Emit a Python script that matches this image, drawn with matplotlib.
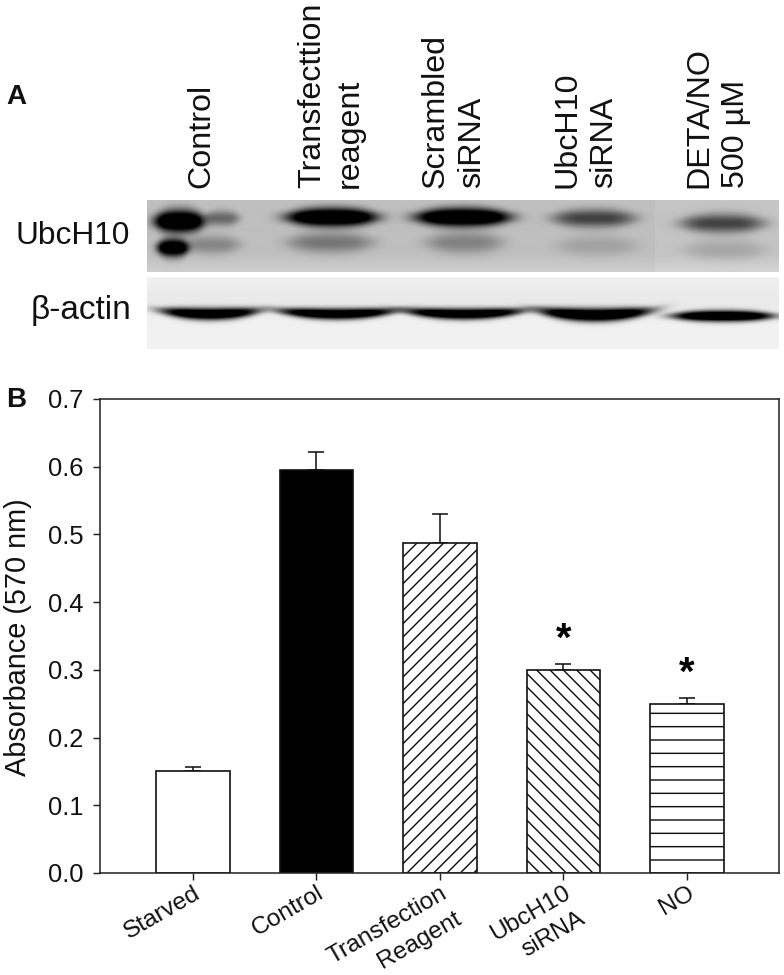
# plot.py
# Panel A: western blot lanes, panel B: bar chart of absorbance
import numpy as np
import matplotlib
matplotlib.use('Agg')
import matplotlib.pyplot as plt

plt.rcParams['font.family'] = ['Liberation Sans', 'DejaVu Sans']
plt.rcParams['hatch.linewidth'] = 1.3

W, H, DPI = 784, 975, 80

# -----------------data
categories = ['Starved', 'Control', 'Transfection\nReagent', 'UbcH10\nsiRNA', 'NO']
absorbance = [0.150, 0.595, 0.487, 0.300, 0.249]
err_top = [0.157, 0.622, 0.530, 0.308, 0.258]
signif = [False, False, False, True, True]
yticks = [0.0, 0.1, 0.2, 0.3, 0.4, 0.5, 0.6, 0.7]

lane_labels = ['Control', 'Transfecttion\nreagent', 'Scrambled\nsiRNA', 'UbcH10\nsiRNA', 'DETA/NO\n500 µM']

# band darkness read from the blot (0 = background, 1 = black)
ubc_upper = [1.0, 0.45, 1.0, 1.0, 0.62, 0.62]
ubc_lower = [0.95, 0.30, 0.38, 0.32, 0.15, 0.15]
actin = [0.95, 0.95, 0.95, 0.98, 0.98]


def fx(px):
    return px / W


def fy(py):
    return 1 - py / H


def add_band(img, xs, ys, x0, x1, yc, h, dark, smile=0.0):
    # soft edged band, darkens img in place, strong bands saturate to black
    xc = (x0 + x1) / 2
    hw = (x1 - x0) / 2
    across = np.exp(-np.abs((xs - xc) / (hw * 1.08)) ** 4)
    ymid = yc + smile * (1 - ((xs - xc) / hw) ** 2)
    thick = h * (0.65 + 0.35 * np.clip(1 - ((xs - xc) / (hw * 1.1)) ** 2, 0, 1))
    down = np.exp(-np.abs((ys - ymid) / thick) ** 2.2)
    gain = 1.0 + 0.5 * dark ** 4
    img *= 1 - np.minimum(1, gain * dark * across * down)


fig = plt.figure(figsize=(W / DPI, H / DPI), dpi=DPI, facecolor='white')

# -----------------panel A
left, right = 147, 779
xs, ys = np.meshgrid(np.arange(left, right) + 0.5, np.arange(200, 272) + 0.5)
top_img = np.full(xs.shape, 0.75)
top_img[xs > 655] = 0.77
top_img += 0.06 * np.clip((ys - 255) / 17.0, 0, 1)
add_band(top_img, xs, ys, 156, 203, 222, 11, ubc_upper[0])
add_band(top_img, xs, ys, 206, 238, 219, 7.5, ubc_upper[1])
add_band(top_img, xs, ys, 290, 374, 218, 9, ubc_upper[2])
add_band(top_img, xs, ys, 419, 507, 218, 9, ubc_upper[3])
add_band(top_img, xs, ys, 556, 632, 219, 9, ubc_upper[4])
add_band(top_img, xs, ys, 684, 761, 224, 9.5, ubc_upper[5])
add_band(top_img, xs, ys, 158, 188, 248, 9, ubc_lower[0])
add_band(top_img, xs, ys, 186, 238, 245, 9, ubc_lower[1])
add_band(top_img, xs, ys, 291, 370, 243, 10, ubc_lower[2])
add_band(top_img, xs, ys, 429, 500, 243, 10.5, ubc_lower[3])
add_band(top_img, xs, ys, 560, 634, 246, 10, ubc_lower[4])
add_band(top_img, xs, ys, 688, 762, 250, 10, ubc_lower[5])

ax_top = fig.add_axes([fx(left), fy(272), (right - left) / W, 72 / H])
ax_top.imshow(top_img, cmap='gray', vmin=0, vmax=1, aspect='auto', interpolation='bilinear')
ax_top.axis('off')

xs, ys = np.meshgrid(np.arange(left, right) + 0.5, np.arange(277, 349) + 0.5)
bot_img = np.full(xs.shape, 0.945)
bot_img -= 0.03 * np.exp(-((ys - 300) / 16.0) ** 2)
add_band(bot_img, xs, ys, 164, 256, 311, 6, actin[0], smile=3)
add_band(bot_img, xs, ys, 282, 392, 311, 5.5, actin[1], smile=3)
add_band(bot_img, xs, ys, 408, 520, 311, 5.5, actin[2], smile=3)
add_band(bot_img, xs, ys, 542, 648, 311, 6.5, actin[3], smile=4)
add_band(bot_img, xs, ys, 676, 770, 316, 5.5, actin[4])

ax_bot = fig.add_axes([fx(left), fy(349), (right - left) / W, 72 / H])
ax_bot.imshow(bot_img, cmap='gray', vmin=0, vmax=1, aspect='auto', interpolation='bilinear')
ax_bot.axis('off')

fig.text(fx(6), fy(97), 'A', fontsize=25, fontweight='bold', va='center', color='#111111')
fig.text(fx(6), fy(400), 'B', fontsize=25, fontweight='bold', va='center', color='#111111')
fig.text(fx(15), fy(236), 'UbcH10', fontsize=28.5, va='center', color='#111111')
fig.text(fx(31), fy(311), 'β-actin', fontsize=30, va='center', color='#111111')

lane_x = [201, 331, 454, 586, 718]
for x, label in zip(lane_x, lane_labels):
    fig.text(fx(x), fy(188), label, fontsize=29, rotation=90, ha='center', va='bottom',
             multialignment='left', linespacing=1.3, color='#111111')

# -----------------panel B
ax = fig.add_axes([fx(100), fy(873), (779 - 100) / W, (873 - 399) / H])
pos = np.arange(len(categories))
faces = ['white', 'black', 'white', 'white', 'white']
hatches = [None, None, '//', '\\\\', '-']
for i in pos:
    ax.bar(pos[i], absorbance[i], width=0.595, facecolor=faces[i], edgecolor='#111111',
           linewidth=1.5, hatch=hatches[i], zorder=2)
    ax.errorbar(pos[i], absorbance[i], yerr=[[0], [err_top[i] - absorbance[i]]], color='#111111',
                elinewidth=1.4, capsize=7.5, capthick=1.4, zorder=1, fmt='none')
    if signif[i]:
        ax.text(pos[i], err_top[i] + 0.036, '*', fontsize=36, fontweight='bold', ha='center',
                va='center', color='black')

ax.set_xlim(-0.753, 4.745)
ax.set_ylim(0, 0.7)
ax.set_yticks(yticks)
ax.set_yticklabels(['%.1f' % t for t in yticks], fontsize=23, color='#111111')
ax.tick_params(axis='y', pad=9)
ax.set_xticks(pos)
ax.set_xticklabels([])
ax.tick_params(axis='both', length=6, width=1.3, color='#222222')
# each line is its own text, right aligned along the 30 degree slope
for i, label in zip(pos, categories):
    for j, line in enumerate(label.split('\n')):
        ax.annotate(line, xy=(i, 0), xycoords=ax.get_xaxis_transform(),
                    xytext=(13 * j, -8 - 23 * j), textcoords='offset points', fontsize=22,
                    rotation=30, ha='right', va='top', rotation_mode='anchor', color='#111111',
                    annotation_clip=False)
for s in ax.spines.values():
    s.set_linewidth(1.4)
    s.set_color('#222222')
fig.text(fx(18), fy(637), 'Absorbance (570 nm)', fontsize=26, rotation=90, ha='center',
         va='center', color='#111111')

fig.savefig('out.png', dpi=DPI, facecolor='white')
